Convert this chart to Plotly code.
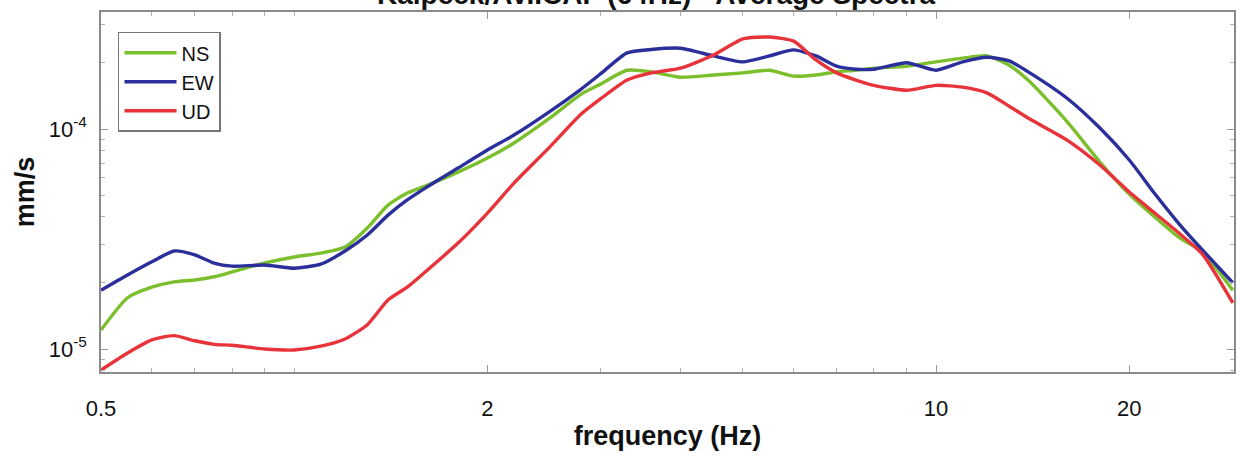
import plotly.graph_objects as go

# Frequencies (Hz) at which the averaged spectra are sampled
freq = [0.5, 0.55, 0.6, 0.65, 0.7, 0.75, 0.8, 0.9, 1.0, 1.1, 1.2, 1.3, 1.4, 1.5,
        1.6, 1.8, 2.0, 2.2, 2.5, 2.8, 3.0, 3.3, 3.6, 4.0, 4.5, 5.0, 5.5, 6.0, 6.5,
        7.0, 7.5, 8.0, 9.0, 10, 11, 12, 13, 14, 16, 18, 20, 22, 24, 26, 29]

# Average amplitude spectra (mm/s) for each component
ns = [1.22e-5, 1.71e-5, 1.91e-5, 2.02e-5, 2.06e-5, 2.13e-5, 2.24e-5, 2.46e-5,
      2.62e-5, 2.73e-5, 2.91e-5, 3.55e-5, 4.51e-5, 5.12e-5, 5.51e-5, 6.37e-5,
      7.38e-5, 8.64e-5, 1.12e-4, 1.44e-4, 1.60e-4, 1.85e-4, 1.82e-4, 1.72e-4,
      1.76e-4, 1.80e-4, 1.85e-4, 1.74e-4, 1.76e-4, 1.82e-4, 1.85e-4, 1.89e-4,
      1.93e-4, 2.02e-4, 2.10e-4, 2.15e-4, 1.95e-4, 1.64e-4, 1.08e-4, 7.08e-5,
      5.06e-5, 3.94e-5, 3.19e-5, 2.76e-5, 1.85e-5]

ew = [1.85e-5, 2.17e-5, 2.49e-5, 2.79e-5, 2.68e-5, 2.46e-5, 2.38e-5, 2.41e-5,
      2.33e-5, 2.43e-5, 2.79e-5, 3.30e-5, 4.06e-5, 4.76e-5, 5.39e-5, 6.65e-5,
      8.03e-5, 9.39e-5, 1.20e-4, 1.52e-4, 1.78e-4, 2.22e-4, 2.30e-4, 2.33e-4,
      2.15e-4, 2.02e-4, 2.15e-4, 2.29e-4, 2.15e-4, 1.93e-4, 1.87e-4, 1.87e-4,
      2.00e-4, 1.85e-4, 2.02e-4, 2.12e-4, 2.04e-4, 1.80e-4, 1.38e-4, 1.01e-4,
      7.23e-5, 5.01e-5, 3.66e-5, 2.82e-5, 2.00e-5]

ud = [8.02e-6, 9.59e-6, 1.10e-5, 1.15e-5, 1.09e-5, 1.05e-5, 1.04e-5, 1.00e-5,
      9.90e-6, 1.03e-5, 1.11e-5, 1.29e-5, 1.67e-5, 1.91e-5, 2.24e-5, 3.03e-5,
      4.15e-5, 5.68e-5, 8.28e-5, 1.17e-4, 1.37e-4, 1.67e-4, 1.80e-4, 1.89e-4,
      2.17e-4, 2.57e-4, 2.62e-4, 2.51e-4, 2.06e-4, 1.80e-4, 1.67e-4, 1.58e-4,
      1.50e-4, 1.58e-4, 1.55e-4, 1.46e-4, 1.27e-4, 1.11e-4, 8.91e-5, 6.86e-5,
      5.17e-5, 4.11e-5, 3.33e-5, 2.70e-5, 1.62e-5]

x_ticks = [0.5, 2, 10, 20]
x_tick_text = ["0.5", "2", "10", "20"]
x_minor = [0.6, 0.7, 0.8, 0.9, 1, 3, 4, 5, 6, 7, 8, 9]
y_ticks = [1e-5, 1e-4]
y_tick_text = ["10<sup>-5</sup>", "10<sup>-4</sup>"]
y_minor = [8e-6, 9e-6, 2e-5, 3e-5, 4e-5, 5e-5, 6e-5, 7e-5, 8e-5, 9e-5, 2e-4, 3e-4]

series = [("NS", ns, "#7CBF2C"), ("EW", ew, "#2A2F9B"), ("UD", ud, "#E8333B")]

FONT = "Liberation Sans, Arial"

fig = go.Figure()
for name, vals, color in series:
    fig.add_trace(go.Scatter(
        x=freq, y=vals, name=name, mode="lines",
        line=dict(color=color, width=3.4, shape="spline", smoothing=0.6),
    ))

axis_common = dict(
    showline=True, linecolor="#8a8a8a", linewidth=1.5, mirror="ticks",
    ticks="inside", ticklen=7, tickcolor="#9a9a9a", tickwidth=1,
    showgrid=False, zeroline=False,
    tickfont=dict(family=FONT, size=22, color="#111"),
)

fig.update_xaxes(
    type="log", range=[-0.30103, 1.4642],
    tickmode="array", tickvals=x_ticks, ticktext=x_tick_text,
    minor=dict(tickmode="array", tickvals=x_minor, ticks="inside", ticklen=4,
               tickcolor="#b0b0b0"),
    ticklabelstandoff=16,
    title=dict(text="<b>frequency (Hz)</b>", standoff=6,
               font=dict(family=FONT, size=27, color="#111")),
    **axis_common,
)
fig.update_yaxes(
    type="log", range=[-5.1045, -3.468],
    tickmode="array", tickvals=y_ticks, ticktext=y_tick_text,
    minor=dict(tickmode="array", tickvals=y_minor, ticks="inside", ticklen=4,
               tickcolor="#b0b0b0"),
    ticklabelstandoff=8,
    title=dict(text="<b>mm/s</b>", standoff=6,
               font=dict(family=FONT, size=27, color="#111")),
    **axis_common,
)

fig.add_annotation(
    text="<b>Kalpeck/AV.ICAF (64Hz) - Average Spectra</b>",
    xref="paper", yref="paper", x=0.49, y=1, xanchor="center", yanchor="bottom",
    yshift=0, showarrow=False,
    font=dict(family=FONT, size=28, color="#111"),
)

fig.update_layout(
    width=1240, height=457,
    margin=dict(l=101, r=4, t=12, b=85),
    paper_bgcolor="white", plot_bgcolor="white",
    showlegend=True,
    legend=dict(
        x=0.015, y=0.945, xanchor="left", yanchor="top",
        bgcolor="white", bordercolor="#777", borderwidth=1.5,
        font=dict(family=FONT, size=20, color="#111"),
        itemwidth=52,
    ),
)

fig.write_html("out.html")
